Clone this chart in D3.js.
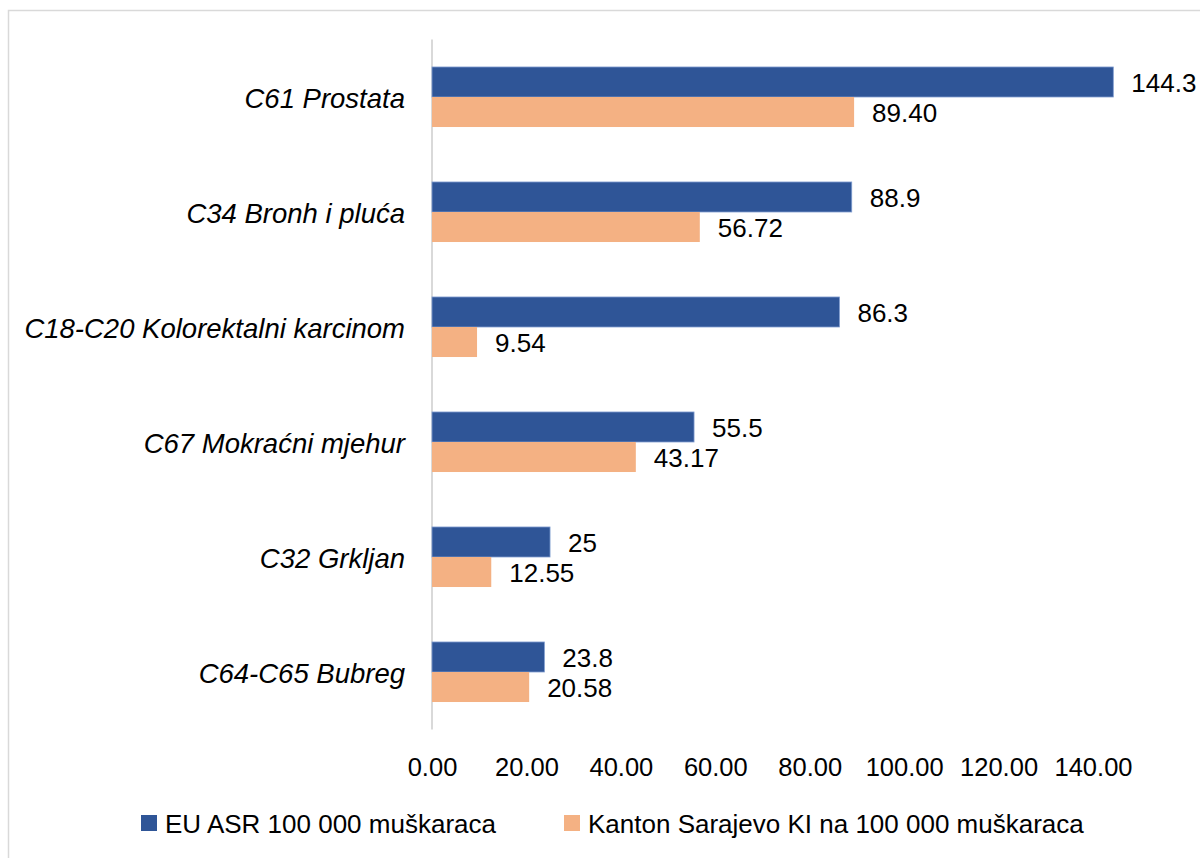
<!DOCTYPE html>
<html>
<head>
<meta charset="utf-8">
<script src="https://cdn.jsdelivr.net/npm/d3@7"></script>
<style>
  html, body { margin: 0; padding: 0; background: #ffffff; }
  svg { display: block; }
  text { font-family: "Liberation Sans", Arial, sans-serif; fill: #000; }
</style>
</head>
<body>
<svg id="chart" width="1200" height="858"></svg>
<script>
// ---- data ----
const categories = [
  "C61 Prostata",
  "C34 Bronh i pluća",
  "C18-C20 Kolorektalni karcinom",
  "C67 Mokraćni mjehur",
  "C32 Grkljan",
  "C64-C65 Bubreg"
];
const seriesNames = ["EU ASR 100 000 muškaraca", "Kanton Sarajevo KI na 100 000 muškaraca"];
const euValues = [144.3, 88.9, 86.3, 55.5, 25, 23.8];
const euLabels = ["144.3", "88.9", "86.3", "55.5", "25", "23.8"];
const ksValues = [89.40, 56.72, 9.54, 43.17, 12.55, 20.58];
const ksLabels = ["89.40", "56.72", "9.54", "43.17", "12.55", "20.58"];
const tickValues = [0, 20, 40, 60, 80, 100, 120, 140];
const tickLabels = ["0.00", "20.00", "40.00", "60.00", "80.00", "100.00", "120.00", "140.00"];

const colors = ["#2F5597", "#F4B183"];

const svg = d3.select("#chart");

// outer border (chart area frame)
svg.append("rect")
  .attr("x", 8.5).attr("y", 10.5)
  .attr("width", 1300).attr("height", 1000)
  .attr("fill", "none").attr("stroke", "#d9d9d9").attr("stroke-width", 1.5);

const x = d3.scaleLinear().domain([0, 140]).range([432, 1093]);
const y = d3.scaleBand().domain(categories).range([39.5, 729.5])
  .paddingInner(0.478).paddingOuter(0.239);
const ySub = d3.scaleBand().domain([0, 1]).range([0, y.bandwidth()]);

// vertical axis line
svg.append("line")
  .attr("x1", x(0)).attr("x2", x(0))
  .attr("y1", 39.5).attr("y2", 729.5)
  .attr("stroke", "#d9d9d9").attr("stroke-width", 2);

const rows = categories.map((c, i) => ({
  cat: c,
  vals: [
    { s: 0, v: euValues[i], label: euLabels[i] },
    { s: 1, v: ksValues[i], label: ksLabels[i] }
  ]
}));

const g = svg.selectAll("g.cat").data(rows).join("g")
  .attr("class", "cat")
  .attr("transform", d => `translate(0,${y(d.cat)})`);

g.selectAll("rect").data(d => d.vals).join("rect")
  .attr("x", x(0))
  .attr("y", d => ySub(d.s))
  .attr("width", d => x(d.v) - x(0))
  .attr("height", ySub.bandwidth())
  .attr("fill", d => colors[d.s])
  .attr("stroke", d => d.s === 0 ? "#7f9ccf" : "none")
  .attr("stroke-width", 0.8);

g.selectAll("text.val").data(d => d.vals).join("text")
  .attr("class", "val")
  .attr("x", d => x(d.v) + 18)
  .attr("y", d => ySub(d.s) + ySub.bandwidth() / 2 + 1)
  .attr("dominant-baseline", "central")
  .attr("font-size", 26)
  .text(d => d.label);

// category labels
svg.selectAll("text.cat").data(categories).join("text")
  .attr("class", "cat")
  .attr("x", 405)
  .attr("y", d => y(d) + y.bandwidth() / 2 + 1)
  .attr("text-anchor", "end")
  .attr("dominant-baseline", "central")
  .attr("font-style", "italic")
  .attr("font-size", 27.5)
  .text(d => d);

// x axis tick labels
const xAxis = d3.axisBottom(x).tickValues(tickValues)
  .tickFormat((d, i) => tickLabels[i]).tickSize(0).tickPadding(0);
const axG = svg.append("g").attr("transform", "translate(0,767)").call(xAxis);
axG.select(".domain").remove();
axG.selectAll("text")
  .attr("font-size", 25.5)
  .attr("font-family", "Liberation Sans, Arial, sans-serif")
  .attr("fill", "#000")
  .attr("dy", null)
  .attr("y", 0)
  .attr("dominant-baseline", "central");

// legend
const legendX = [141, 564];
const leg = svg.selectAll("g.leg").data(seriesNames).join("g")
  .attr("class", "leg")
  .attr("transform", (d, i) => `translate(${legendX[i]},815)`);
leg.append("rect").attr("width", 16).attr("height", 16)
  .attr("fill", (d, i) => colors[i]);
leg.append("text")
  .attr("x", 24).attr("y", 9)
  .attr("dominant-baseline", "central")
  .attr("font-size", 26)
  .text(d => d);
</script>
</body>
</html>
